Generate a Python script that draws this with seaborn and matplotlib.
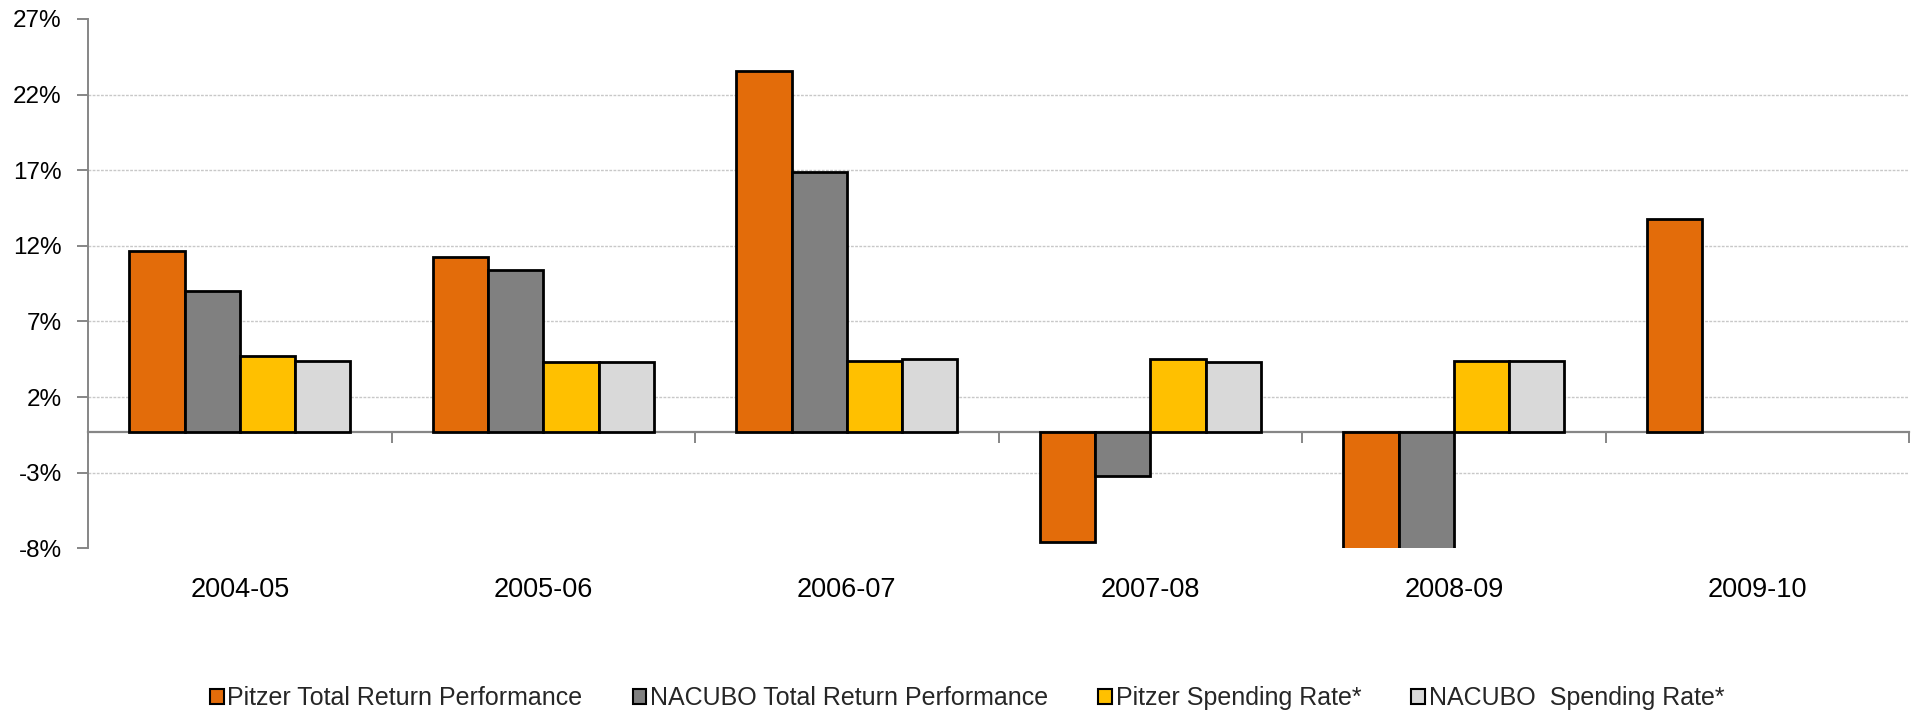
import numpy as np
import pandas as pd
import matplotlib
matplotlib.use("Agg")
import matplotlib.pyplot as plt
import seaborn as sns

# ---------------- data ----------------
categories = ["2004-05", "2005-06", "2006-07", "2007-08", "2008-09", "2009-10"]
series_names = ["Pitzer Total Return Performance", "NACUBO Total Return Performance",
                "Pitzer Spending Rate*", "NACUBO  Spending Rate*"]
pitzer_total = [12.0, 11.6, 23.9, -7.3, -19.0, 14.1]
nacubo_total = [9.3, 10.7, 17.2, -2.9, -18.7, np.nan]
pitzer_spend = [5.0, 4.65, 4.7, 4.85, 4.7, np.nan]
nacubo_spend = [4.7, 4.65, 4.8, 4.65, 4.7, np.nan]
y_ticks = [-7.69, -2.69, 2.31, 7.31, 12.31, 17.31, 22.31, 27.31]
y_tick_labels = ["-8%", "-3%", "2%", "7%", "12%", "17%", "22%", "27%"]
colors = ["#E36C0A", "#808080", "#FFC000", "#D9D9D9"]

# ---------------- style ----------------
sns.set_theme(style="white")
plt.rcParams["font.family"] = ["Liberation Sans", "DejaVu Sans"]
FS = 17.5
AXIS_COLOR = "#868686"

df = pd.DataFrame({
    "Year": categories,
    series_names[0]: pitzer_total,
    series_names[1]: nacubo_total,
    series_names[2]: pitzer_spend,
    series_names[3]: nacubo_spend,
})
long = df.melt(id_vars="Year", var_name="Series", value_name="Value")

fig = plt.figure(figsize=(19.19, 7.13), dpi=100)
ax = fig.add_axes([0.0459, 0.231, 0.9489, 0.7424])

sns.barplot(data=long, x="Year", y="Value", hue="Series", order=categories,
            hue_order=series_names, palette=colors, saturation=1,
            width=0.728, gap=0, errorbar=None, edgecolor="black",
            linewidth=2, ax=ax, zorder=2)

ymin, ymax = y_ticks[0], y_ticks[-1]
ax.set_ylim(ymin, ymax)
ax.set_xlim(-0.5, len(categories) - 0.5)
ax.set_yticks(y_ticks, y_tick_labels)
for t in y_ticks[1:-1]:
    ax.axhline(t, color="#C8C8C8", lw=1.0, ls=(0, (2, 1)), zorder=0.5)

for s in ["top", "right", "bottom"]:
    ax.spines[s].set_visible(False)
ax.spines["left"].set_color(AXIS_COLOR)
ax.spines["left"].set_linewidth(1.4)
ax.tick_params(axis="y", direction="out", length=8, width=1.4, color=AXIS_COLOR,
               pad=11, labelsize=FS, labelcolor="black", left=True)
ax.tick_params(axis="x", length=0, pad=21, labelsize=19.5, labelcolor="black")
ax.set_xlabel("")
ax.set_ylabel("")

# horizontal axis crossing at zero, with tick marks between categories
sec = ax.secondary_xaxis((0 - ymin) / (ymax - ymin))
sec.set_xticks(np.arange(len(categories) + 1) - 0.5, [""] * (len(categories) + 1))
sec.tick_params(direction="out", length=8, width=1.4, color=AXIS_COLOR)
for s in sec.spines.values():
    s.set_color(AXIS_COLOR)
    s.set_linewidth(1.6)

handles, labels = ax.get_legend_handles_labels()
if ax.get_legend() is not None:
    ax.get_legend().remove()
for h in handles:
    h.set_linewidth(1.5)
    h.set_edgecolor("black")
fig.legend(handles, labels, loc="center", bbox_to_anchor=(0.504, 0.021), ncol=4,
           frameon=False, fontsize=18, handlelength=0.55, handleheight=0.55,
           handletextpad=0.15, columnspacing=2.0, borderaxespad=0)

fig.savefig("out.png", dpi=100)
